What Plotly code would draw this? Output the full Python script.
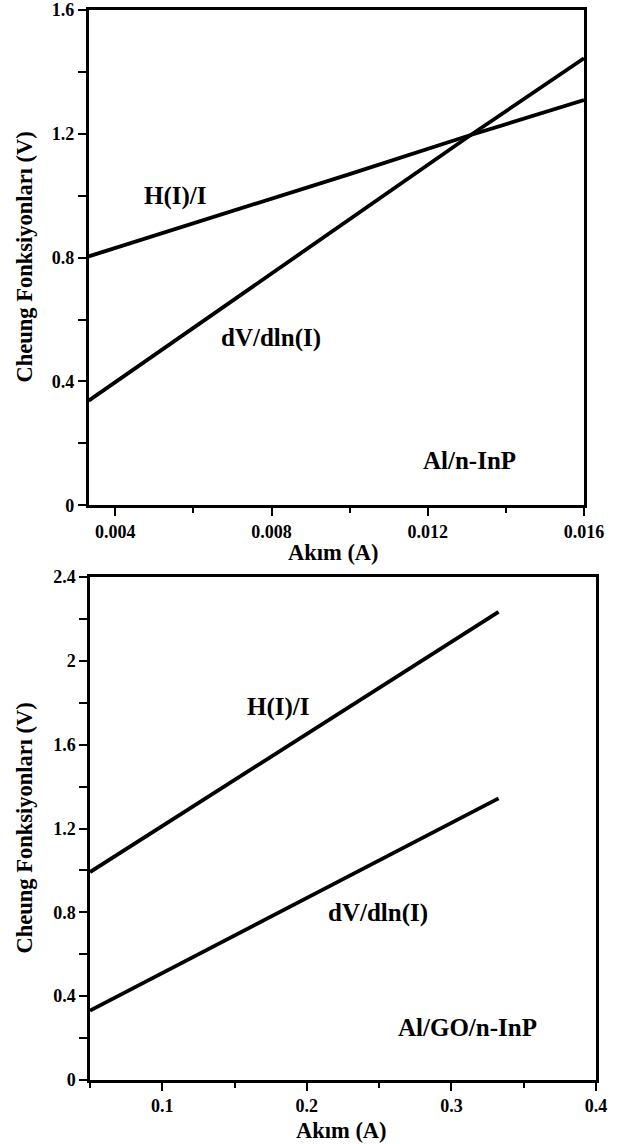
import plotly.graph_objects as go

# Al/n-InP diode: Cheung functions vs current
cur_top = [0.00332, 0.0063, 0.0080, 0.0100, 0.0131, 0.0160]
hi_top = [0.804, 0.922, 0.990, 1.070, 1.196, 1.309]
dv_top = [0.338, 0.600, 0.748, 0.923, 1.196, 1.444]

# Al/GO/n-InP diode: Cheung functions vs current
cur_bot = [0.050, 0.099, 0.150, 0.2095, 0.250, 0.300, 0.3326]
hi_bot = [0.992, 1.208, 1.431, 1.694, 1.871, 2.091, 2.234]
dv_bot = [0.331, 0.507, 0.690, 0.903, 1.049, 1.229, 1.344]

top_xticks = [0.004, 0.008, 0.012, 0.016]
top_xlabels = ["0.004", "0.008", "0.012", "0.016"]
top_yticks = [0, 0.4, 0.8, 1.2, 1.6]
top_ylabels = ["0", "0.4", "0.8", "1.2", "1.6"]
bot_xticks = [0.1, 0.2, 0.3, 0.4]
bot_xlabels = ["0.1", "0.2", "0.3", "0.4"]
bot_yticks = [0, 0.4, 0.8, 1.2, 1.6, 2.0, 2.4]
bot_ylabels = ["0", "0.4", "0.8", "1.2", "1.6", "2", "2.4"]

W, H = 617, 1144
SERIF = "Liberation Serif"
tick_font = dict(family=SERIF, size=18, color="black", weight="bold")
ann_font = dict(family=SERIF, size=25, color="black", weight="bold")
title_font = dict(family=SERIF, size=22.5, color="black", weight="bold")


def px_x(p):
    return p / W


def px_y(p):
    return 1 - p / H


fig = go.Figure()
line_style = dict(color="black", width=3.8)
fig.add_trace(go.Scatter(x=cur_top, y=hi_top, mode="lines", line=line_style,
                         xaxis="x", yaxis="y", showlegend=False))
fig.add_trace(go.Scatter(x=cur_top, y=dv_top, mode="lines", line=line_style,
                         xaxis="x", yaxis="y", showlegend=False))
fig.add_trace(go.Scatter(x=cur_bot, y=hi_bot, mode="lines", line=line_style,
                         xaxis="x2", yaxis="y2", showlegend=False))
fig.add_trace(go.Scatter(x=cur_bot, y=dv_bot, mode="lines", line=line_style,
                         xaxis="x2", yaxis="y2", showlegend=False))

axis_common = dict(
    showgrid=False, zeroline=False, showline=True, linecolor="black",
    linewidth=2.5, mirror=True, ticks="outside", tickcolor="black",
    tickwidth=1.8, ticklen=8, tickfont=tick_font, automargin=False,
)

fig.update_layout(
    width=W, height=H,
    margin=dict(l=0, r=0, t=0, b=0),
    paper_bgcolor="white", plot_bgcolor="white",
    font=dict(family=SERIF, color="black"),
    xaxis=dict(axis_common, domain=[px_x(88.7), px_x(584)], anchor="y",
               range=[0.00332, 0.016], tickvals=top_xticks, ticktext=top_xlabels,
               minor=dict(dtick=0.002, tick0=0, ticks="outside", ticklen=5,
                          tickwidth=1.5, tickcolor="black")),
    yaxis=dict(axis_common, domain=[px_y(505.3), px_y(10)], anchor="x",
               range=[0, 1.6], tickvals=top_yticks, ticktext=top_ylabels,
               minor=dict(dtick=0.2, tick0=0, ticks="outside", ticklen=8,
                          tickwidth=1.8, tickcolor="black")),
    xaxis2=dict(axis_common, domain=[px_x(90), px_x(596)], anchor="y2",
                range=[0.05, 0.4], tickvals=bot_xticks, ticktext=bot_xlabels,
                minor=dict(dtick=0.05, tick0=0, ticks="outside", ticklen=5,
                           tickwidth=1.5, tickcolor="black")),
    yaxis2=dict(axis_common, domain=[px_y(1080), px_y(577)], anchor="x2",
                range=[0, 2.4], tickvals=bot_yticks, ticktext=bot_ylabels,
                minor=dict(dtick=0.2, tick0=0, ticks="outside", ticklen=8,
                           tickwidth=1.8, tickcolor="black")),
)

# curve and sample labels
labels = [
    ("x", "y", 0.00554, 1.00, "H(I)/I"),
    ("x", "y", 0.00799, 0.541, "dV/dln(I)"),
    ("x", "y", 0.01308, 0.145, "Al/n-InP"),
    ("x2", "y2", 0.1804, 1.78, "H(I)/I"),
    ("x2", "y2", 0.249, 0.799, "dV/dln(I)"),
    ("x2", "y2", 0.311, 0.250, "Al/GO/n-InP"),
]
for xr, yr, xv, yv, txt in labels:
    fig.add_annotation(x=xv, y=yv, xref=xr, yref=yr, text=txt, showarrow=False,
                       font=ann_font, xanchor="center", yanchor="middle")

# axis titles
titles = [
    (333, 553, "Akım (A)", 0),
    (341, 1130, "Akım (A)", 0),
    (24, 257.5, "Cheung Fonksiyonları (V)", -90),
    (24, 828.5, "Cheung Fonksiyonları (V)", -90),
]
for xp, yp, txt, ang in titles:
    fig.add_annotation(x=px_x(xp), y=px_y(yp), xref="paper", yref="paper",
                       text=txt, showarrow=False, font=title_font,
                       textangle=ang, xanchor="center", yanchor="middle")

fig.write_html("out.html")
